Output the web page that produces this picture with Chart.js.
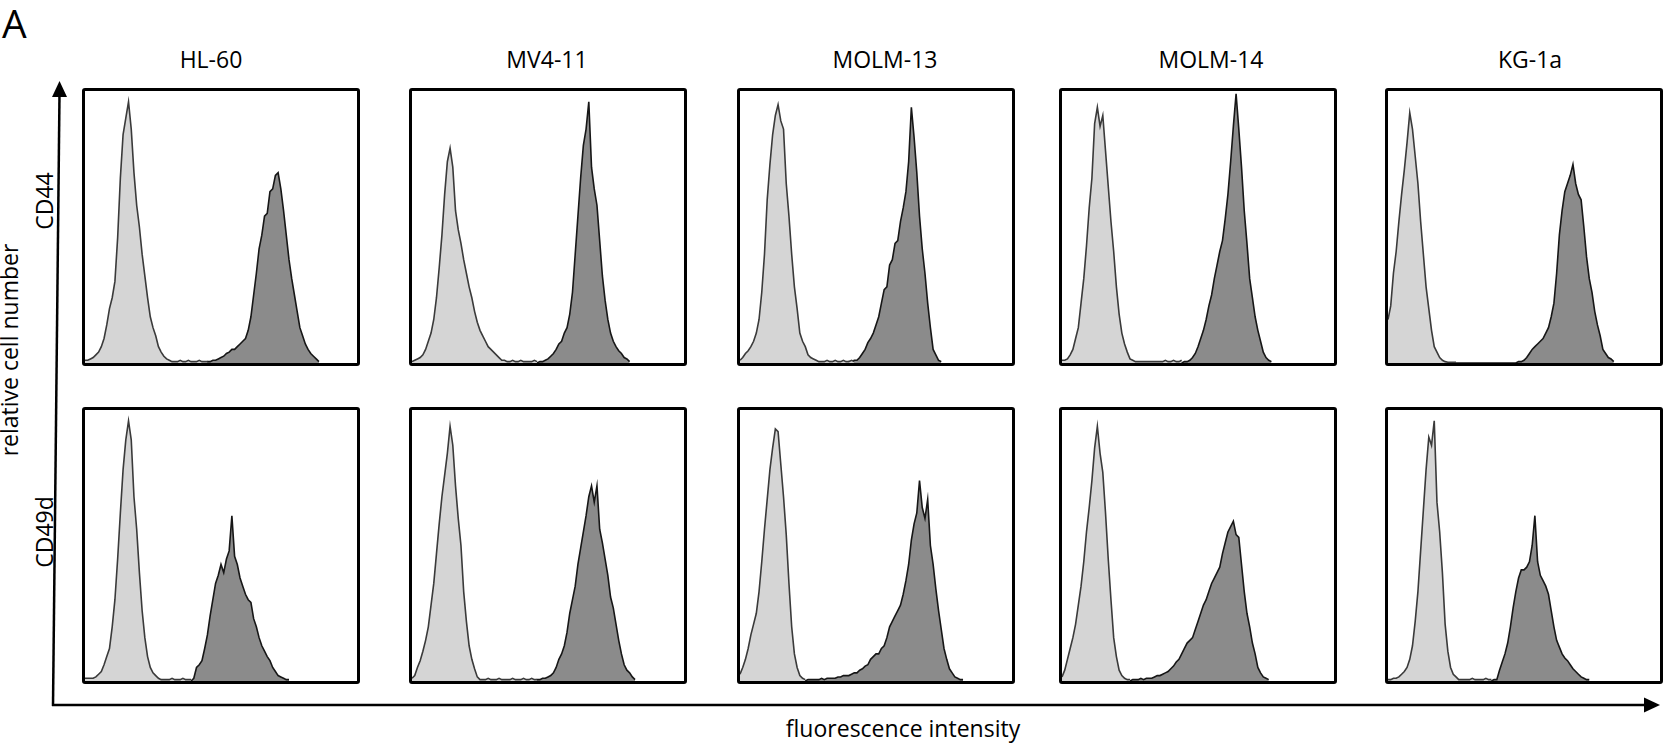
<!DOCTYPE html>
<html>
<head>
<meta charset="utf-8">
<script src="https://cdn.jsdelivr.net/npm/chart.js@4.4.1/dist/chart.umd.min.js"></script>
<style>
  body { margin: 0; background: #fff; }
  #fig { position: relative; width: 1669px; height: 743px; overflow: hidden; font-family: "Open Sans", sans-serif; }
  #overlay { position: absolute; left: 0; top: 0; }
  .panel { position: absolute; border: 3px solid #000; border-radius: 3px; box-sizing: border-box; background: #fff; }
  .panel canvas { display: block; }
</style>
</head>
<body>
<div id="fig">
  <svg id="overlay" width="1669" height="743" xmlns="http://www.w3.org/2000/svg"></svg>
</div>
<script>
// column / row names
const cellLines = ["HL-60", "MV4-11", "MOLM-13", "MOLM-14", "KG-1a"];
const markers = ["CD44", "CD49d"];

// relative cell number (% of panel height) per fluorescence channel (0..100 across panel)
// light = isotype control, dark = stained
const hl60Cd44Ctrl = [1,1,1.5,2,3,4,6,9,14,20, 24,30,46,68,84,90,96,86,70,58, 50,40,32,24,17,13,10,6,4,2.5, 1.5,1,0.5,0.5,0.5,1,0.5,0.5,1,0.5, 0.5,0.5,1,0.5,0.5,0.5];
const hl60Cd44Stain = [0,0,0,0,0,0,0,0,0,0, 0,0,0,0,0,0,0,0,0,0, 0,0,0,0,0,0,0,0,0,0, 0,0,0,0,0,0,0,0,0,0, 0,0,0,0,0,
  0.5,0.5,1,1,1.5,2,2.5,3.5,4,5, 5,6,7,8,9,12,17,25,33,42, 47,54,55,63,64,69,70,64,56,47, 38,31,25,19,13,10,7,5,3.5,2.5, 1.5,0.5];

const mv411Cd44Ctrl = [0.5,1,1.5,2,3,5,8,11,16,24, 35,47,62,74,79,72,56,49,44,38, 33,28,24,19,15,12,10,8,6,5, 4,3,2,1,1,0.5,0.5,1,0.5,0.5, 1,0.5,0.5,0.5,0.5,1,0.5];
const mv411Cd44Stain = [0,0,0,0,0,0,0,0,0,0, 0,0,0,0,0,0,0,0,0,0, 0,0,0,0,0,0,0,0,0,0, 0,0,0,0,0,0,0,0,0,0, 0,0,0,0,0,0,0,
  0.5,0.5,1,1.5,2.5,3.5,5,7,8,11, 13,18,26,40,54,68,80,86,96,72, 64,58,45,32,23,16,11,8,6,4.5, 3.5,2,1.5,0.5];

const molm13Cd44Ctrl = [1,2,3.5,4.5,6,8,11,16,26,40, 60,73,84,91,95,89,86,66,54,40, 28,20,11,8,6,3,2,1.5,1,0.5, 0.5,0.5,1,0.5,0.5,1,0.5,0.5,1,0.5, 0.5,1,0.5];
const molm13Cd44Stain = [0,0,0,0,0,0,0,0,0,0, 0,0,0,0,0,0,0,0,0,0, 0,0,0,0,0,0,0,0,0,0, 0,0,0,0,0,0,0,0,0,0,
  0.5,0.5,1,1,2,3.5,5,7.5,9,11, 14,17,22,27,28,36,38,44,45,52, 57,63,74,94,83,70,54,42,33,22, 13,5,3,1,0.5];

const molm14Cd44Ctrl = [1,1,1.5,3,5,9,13,22,31,43, 57,68,88,94,87,91,78,65,52,41, 28,18,11,7,4,1.5,1,0.5,0.5,0.5, 0.5,0.5,0.5,0.5,0.5,0.5,0.5,0.5,1,0.5, 0.5,1,0.5,0.5,1];
const molm14Cd44Stain = [0,0,0,0,0,0,0,0,0,0, 0,0,0,0,0,0,0,0,0,0, 0,0,0,0,0,0,0,0,0,0, 0,0,0,0,0,0,0,0,0,0, 0,0,0,0,0,
  0.5,0.5,1,2,3.5,6,9,12,16,21, 25,31,36,41,45,53,62,74,87,99, 86,72,56,44,31,24,17,12,8,4, 2,1,0.5];

const kg1aCd44Ctrl = [16,21,33,41,52,62,71,81,92,86, 76,66,52,40,28,20,12,6,4,2, 1,0.5,0.3,0.3,0.3,0.3];
const kg1aCd44Stain = [0,0,0,0,0,0,0,0,0,0, 0,0,0,0,0,0,0,0,0,0, 0,0,0,0,0,0,0,0,0,0, 0,0,0,0,0,0,0,0,0,0, 0,0,0,0,0,0,0,0,
  0.5,0.5,1,2,3.5,5,6,7,8,9, 11,13,17,22,33,47,56,63,66,69, 73,66,62,60,50,39,31,26,19,14, 10,5,3.5,2,1.5,0.5];

const hl60Cd49dCtrl = [1,1,1,1,1.5,2.5,3.5,6,9,12, 20,30,45,62,78,89,96,89,68,56, 40,26,16,9,5,3,2,1,0.5,0.5, 0.5,0.5,1,0.5,0.5,0.5,1,0.5,0.5,0.5];
const hl60Cd49dStain = [0,0,0,0,0,0,0,0,0,0, 0,0,0,0,0,0,0,0,0,0, 0,0,0,0,0,0,0,0,0,0, 0,0,0,0,0,0,0,0,0,0,
  1,5,6,7.5,12,17,24,30,36,39, 43,40,45,48,61,46,43,38,35,32, 30,29,23,20,16,13,11,9,7.5,5, 3.5,2,1.5,1,0.5,0.5];

const mv411Cd49dCtrl = [1,2,5,7.5,11,15,20,28,36,47, 58,68,76,84,94,87,72,60,50,33, 22,13,8,4.5,1.5,0.5,0.5,0.5,1,0.5, 0.5,0.5,1,0.5,0.5,0.5,0.5,1,0.5,0.5, 0.5,1,0.5,0.5,1,0.5,0.5];
const mv411Cd49dStain = [0,0,0,0,0,0,0,0,0,0, 0,0,0,0,0,0,0,0,0,0, 0,0,0,0,0,0,0,0,0,0, 0,0,0,0,0,0,0,0,0,0, 0,0,0,0,0,0,
  0.5,0.5,1,1,1.5,2,3,5,8,10, 13,18,25,30,35,43,49,55,61,68, 72,66,72,56,51,45,39,31,27,21, 15,10,6,4,3,1.5,0.5];

const molm13Cd49dCtrl = [2.5,5,8,12,17,21,25,33,44,56, 67,78,86,93,92,80,68,54,36,20, 10,5,2,1,0.5];
const molm13Cd49dStain = [0,0,0,0,0,0,0,0,0,0, 0,0,0,0,0,0,0,0,0,0, 0,0,0,0,0,
  0.5,0.5,0.5,0.5,0.5,1,0.5,1,1,1, 1,1.5,1.5,2,2,2,2.5,3,3,4, 4.5,5.5,6,8,9,10,10,12,13,16, 20,22,24,26,28,32,37,43,52,58, 62,74,64,60,67,50,43,34,26,19, 12,8,4.5,3,1.5,1,0.5,0.5];

const molm14Cd49dCtrl = [1.5,4,8,12,16,21,28,35,44,55, 64,74,86,94,84,77,62,45,30,16, 9,4,2,1,0.5,0.5];
const molm14Cd49dStain = [0,0,0,0,0,0,0,0,0,0, 0,0,0,0,0,0,0,0,0,0, 0,0,0,0,0,0,
  0.5,0.5,0.5,1,0.5,1,1,1,1.5,2, 2,2.5,3,3.5,4.5,5.5,7,8,10,12, 14,15,16,19,22,25,28,30,33,36, 38,40,42,47,51,55,57,59,54,53, 43,33,25,20,14,10,5,3,1.5,1,0.5];

const kg1aCd49dCtrl = [0.5,0.5,1,1,1.5,2.5,3.5,5,8,13, 22,33,48,63,78,90,87,96,66,55, 40,21,11,5,2.5,1.5,0.5,0.5,0.5,0.5, 0.5,1,0.5,0.5,0.5,0.5,1,0.5,0.5];
const kg1aCd49dStain = [0,0,0,0,0,0,0,0,0,0, 0,0,0,0,0,0,0,0,0,0, 0,0,0,0,0,0,0,0,0,0, 0,0,0,0,0,0,0,0,0,
  0.5,0.5,4,7,10,14,20,27,33,38, 41,41,42,44,50,61,44,39,37,35, 32,26,20,15,12.5,10,8.5,7.5,6,4.5, 3.5,2.5,1.5,1,0.5,0.5];

const ctrlSeries = [
  [hl60Cd44Ctrl, mv411Cd44Ctrl, molm13Cd44Ctrl, molm14Cd44Ctrl, kg1aCd44Ctrl],
  [hl60Cd49dCtrl, mv411Cd49dCtrl, molm13Cd49dCtrl, molm14Cd49dCtrl, kg1aCd49dCtrl]
];
const stainSeries = [
  [hl60Cd44Stain, mv411Cd44Stain, molm13Cd44Stain, molm14Cd44Stain, kg1aCd44Stain],
  [hl60Cd49dStain, mv411Cd49dStain, molm13Cd49dStain, molm14Cd49dStain, kg1aCd49dStain]
];

// layout of the grid (px)
const colLeft = [82, 409, 737, 1059, 1385];
const colLabelX = [211, 547, 885, 1211, 1530];
const rowTop = [88, 407];
const rowHeight = [278, 277];
const rowLabelY = [201, 532];
const panelWidth = 278;
const border = 3;

const fig = document.getElementById("fig");
const svg = document.getElementById("overlay");
const NS = "http://www.w3.org/2000/svg";

function svgEl(tag, attrs, text) {
  const el = document.createElementNS(NS, tag);
  for (const k in attrs) el.setAttribute(k, attrs[k]);
  if (text) el.textContent = text;
  svg.appendChild(el);
  return el;
}

const toPoints = (arr) => arr.map((v, i) => ({ x: i, y: v }));

// histogram panels
markers.forEach((marker, r) => {
  cellLines.forEach((cell, c) => {
    const box = document.createElement("div");
    box.className = "panel";
    box.style.left = colLeft[c] + "px";
    box.style.top = rowTop[r] + "px";
    box.style.width = panelWidth + "px";
    box.style.height = rowHeight[r] + "px";
    const canvas = document.createElement("canvas");
    canvas.width = panelWidth - 2 * border;
    canvas.height = rowHeight[r] - 2 * border;
    box.appendChild(canvas);
    fig.appendChild(box);

    new Chart(canvas, {
      type: "line",
      data: {
        datasets: [
          {
            data: toPoints(ctrlSeries[r][c]),
            fill: "origin",
            backgroundColor: "#d5d5d5",
            borderColor: "#3a3a3a",
            borderWidth: 1.6,
            pointRadius: 0,
            tension: 0,
          },
          {
            data: toPoints(stainSeries[r][c]),
            fill: "origin",
            backgroundColor: "#8b8b8b",
            borderColor: "#161616",
            borderWidth: 1.6,
            pointRadius: 0,
            tension: 0,
          },
        ],
      },
      options: {
        responsive: false,
        animation: false,
        events: [],
        layout: { padding: 0 },
        plugins: { legend: { display: false }, tooltip: { enabled: false } },
        scales: {
          x: { type: "linear", display: false, min: 0, max: 100 },
          y: { display: false, min: 0, max: 100 },
        },
      },
    });
  });
});

// axes with arrows
svgEl("line", { x1: 53, y1: 706, x2: 59.5, y2: 94, stroke: "#000", "stroke-width": 2.5 });
svgEl("polygon", { points: "59.5,81 52,97 67,97", fill: "#000" });
svgEl("line", { x1: 52, y1: 705, x2: 1646, y2: 705, stroke: "#000", "stroke-width": 2.5 });
svgEl("polygon", { points: "1660,705 1644,697.5 1644,712.5", fill: "#000" });

// texts
const font = '"Open Sans", sans-serif';
svgEl("text", { x: 2, y: 38, "font-size": 39, "font-family": font }, "A");
cellLines.forEach((name, c) => {
  svgEl("text", { x: colLabelX[c], y: 68, "font-size": 23, "font-family": font, "text-anchor": "middle" }, name);
});
markers.forEach((name, r) => {
  svgEl("text", {
    x: 53, y: rowLabelY[r], "font-size": 23, "font-family": font, "text-anchor": "middle",
    transform: `rotate(-90 53 ${rowLabelY[r]})`,
  }, name);
});
svgEl("text", {
  x: 18, y: 350, "font-size": 23, "font-family": font, "text-anchor": "middle",
  transform: "rotate(-90 18 350)",
}, "relative cell number");
svgEl("text", { x: 903, y: 737, "font-size": 23, "font-family": font, "text-anchor": "middle" }, "fluorescence intensity");
</script>
</body>
</html>
